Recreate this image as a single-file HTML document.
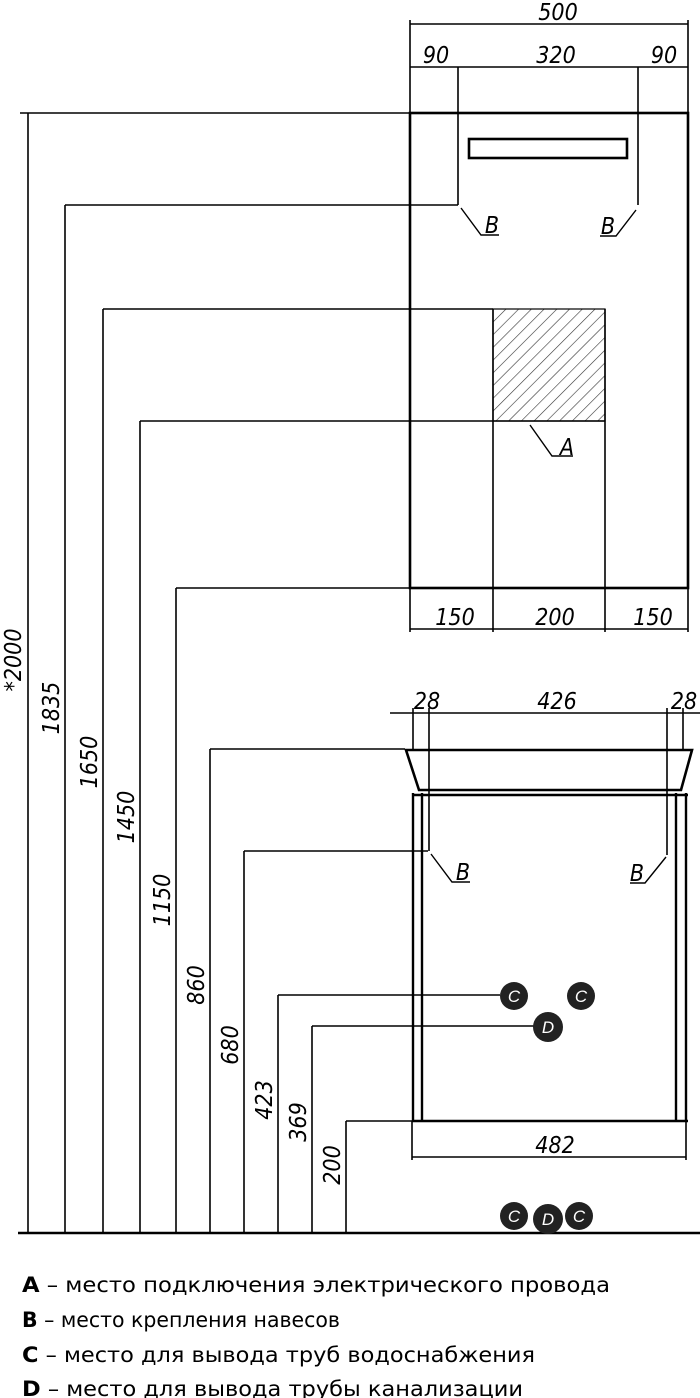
<!DOCTYPE html>
<html><head><meta charset="utf-8"><style>
html,body{margin:0;padding:0;background:#fff;}
svg{display:block;}
.d{font-family:"DejaVu Sans Condensed","Liberation Sans",sans-serif;font-stretch:condensed;font-style:italic;font-size:23px;fill:#000;}
.l{font-family:"DejaVu Sans Condensed","Liberation Sans",sans-serif;font-size:21px;fill:#000;}
</style></head><body>
<svg width="700" height="1398" viewBox="0 0 700 1398" xmlns="http://www.w3.org/2000/svg">
<defs>
<pattern id="h" width="9" height="9" patternUnits="userSpaceOnUse" patternTransform="rotate(45)">
<line x1="0" y1="0" x2="0" y2="9" stroke="#333" stroke-width="1.2"/>
</pattern>
</defs>
<g stroke="#000" fill="none" stroke-width="1.6">
<rect x="410" y="113" width="278" height="475" stroke-width="2.6"/>
<rect x="469" y="139" width="158" height="19" stroke-width="2.6"/>
<rect x="493" y="309" width="112" height="112" fill="url(#h)" stroke-width="1.2"/>
<line x1="493" y1="309" x2="493" y2="632"/>
<line x1="605" y1="309" x2="605" y2="632"/>
<line x1="410" y1="421" x2="605" y2="421"/>
<line x1="410" y1="24" x2="688" y2="24"/>
<line x1="410" y1="67" x2="688" y2="67"/>
<line x1="410" y1="20" x2="410" y2="113"/>
<line x1="688" y1="20" x2="688" y2="113"/>
<line x1="458" y1="67" x2="458" y2="205"/>
<line x1="638" y1="67" x2="638" y2="205"/>
<polyline points="461,208 481,235 499,235" stroke-width="1.4"/>
<polyline points="636,210 616,236 600,236" stroke-width="1.4"/>
<line x1="410" y1="588" x2="410" y2="632"/>
<line x1="688" y1="588" x2="688" y2="632"/>
<line x1="410" y1="629" x2="688" y2="629"/>
<polyline points="530,425 552,456 573,456" stroke-width="1.4"/>
<line x1="20" y1="113" x2="410" y2="113"/>
<line x1="65" y1="205" x2="458" y2="205"/>
<line x1="103" y1="309" x2="493" y2="309"/>
<line x1="140" y1="421" x2="410" y2="421"/>
<line x1="176" y1="588" x2="688" y2="588"/>
<line x1="210" y1="749" x2="405" y2="749"/>
<line x1="244" y1="851" x2="428" y2="851"/>
<line x1="278" y1="995" x2="500" y2="995"/>
<line x1="312" y1="1026" x2="534" y2="1026"/>
<line x1="346" y1="1121" x2="412" y2="1121"/>
<line x1="28" y1="113" x2="28" y2="1232"/>
<line x1="65" y1="205" x2="65" y2="1232"/>
<line x1="103" y1="309" x2="103" y2="1232"/>
<line x1="140" y1="421" x2="140" y2="1232"/>
<line x1="176" y1="588" x2="176" y2="1232"/>
<line x1="210" y1="749" x2="210" y2="1232"/>
<line x1="244" y1="851" x2="244" y2="1232"/>
<line x1="278" y1="995" x2="278" y2="1232"/>
<line x1="312" y1="1026" x2="312" y2="1232"/>
<line x1="346" y1="1121" x2="346" y2="1232"/>
<line x1="18" y1="1233" x2="700" y2="1233" stroke-width="2.4"/>
<path d="M406,750 L692,750 L681,790 L419,790 Z" stroke-width="2.6"/>
<line x1="412" y1="795" x2="688" y2="795" stroke-width="2.6"/>
<line x1="413" y1="793" x2="413" y2="1121" stroke-width="2.4"/>
<line x1="422" y1="793" x2="422" y2="1121" stroke-width="2.4"/>
<line x1="676" y1="793" x2="676" y2="1121" stroke-width="2.4"/>
<line x1="686" y1="793" x2="686" y2="1121" stroke-width="2.4"/>
<line x1="412" y1="1121" x2="688" y2="1121" stroke-width="2.6"/>
<line x1="412" y1="1121" x2="412" y2="1160"/>
<line x1="686" y1="1121" x2="686" y2="1160"/>
<line x1="412" y1="1157" x2="686" y2="1157"/>
<line x1="390" y1="713" x2="700" y2="713"/>
<line x1="413" y1="708" x2="413" y2="750"/>
<line x1="429" y1="708" x2="429" y2="851"/>
<line x1="667" y1="708" x2="667" y2="855"/>
<line x1="683" y1="708" x2="683" y2="750"/>
<polyline points="431,854 452,882 470,882" stroke-width="1.4"/>
<polyline points="666,857 645,883 630,883" stroke-width="1.4"/>
</g>
<g fill="#222">
<circle cx="514" cy="996" r="14"/><circle cx="581" cy="996" r="14"/><circle cx="548" cy="1027" r="15"/>
<circle cx="514" cy="1216" r="14"/><circle cx="548" cy="1219" r="15"/><circle cx="579" cy="1216" r="14"/>
</g>
<g font-family="Liberation Sans" font-style="italic" font-size="17" fill="#fff" text-anchor="middle">
<text x="514" y="1002">C</text><text x="581" y="1002">C</text><text x="548" y="1033">D</text>
<text x="514" y="1222">C</text><text x="548" y="1225">D</text><text x="579" y="1222">C</text>
</g>
<g class="d" text-anchor="middle">
<text x="558" y="20">500</text>
<text x="436" y="63">90</text>
<text x="556" y="63">320</text>
<text x="664" y="63">90</text>
<text x="492" y="233">B</text>
<text x="608" y="234">B</text>
<text x="567" y="455">A</text>
<text x="455" y="625">150</text>
<text x="555" y="625">200</text>
<text x="653" y="625">150</text>
<text x="427" y="709">28</text>
<text x="557" y="709">426</text>
<text x="684" y="709">28</text>
<text x="463" y="880">B</text>
<text x="637" y="881">B</text>
<text x="555" y="1153">482</text>
<text transform="translate(21,660) rotate(-90)">*2000</text>
<text transform="translate(59,708) rotate(-90)">1835</text>
<text transform="translate(97,762) rotate(-90)">1650</text>
<text transform="translate(134,817) rotate(-90)">1450</text>
<text transform="translate(170,900) rotate(-90)">1150</text>
<text transform="translate(204,985) rotate(-90)">860</text>
<text transform="translate(238,1045) rotate(-90)">680</text>
<text transform="translate(272,1100) rotate(-90)">423</text>
<text transform="translate(306,1122) rotate(-90)">369</text>
<text transform="translate(340,1165) rotate(-90)">200</text>
</g>
<g class="l">
<text x="22" y="1292" textLength="588" lengthAdjust="spacingAndGlyphs"><tspan font-weight="bold">A</tspan> – место подключения электрического провода</text>
<text x="22" y="1327" textLength="318" lengthAdjust="spacingAndGlyphs"><tspan font-weight="bold">B</tspan> – место крепления навесов</text>
<text x="22" y="1362" textLength="513" lengthAdjust="spacingAndGlyphs"><tspan font-weight="bold">C</tspan> – место для вывода труб водоснабжения</text>
<text x="22" y="1396" textLength="501" lengthAdjust="spacingAndGlyphs"><tspan font-weight="bold">D</tspan> – место для вывода трубы канализации</text>
</g>
</svg>
</body></html>
